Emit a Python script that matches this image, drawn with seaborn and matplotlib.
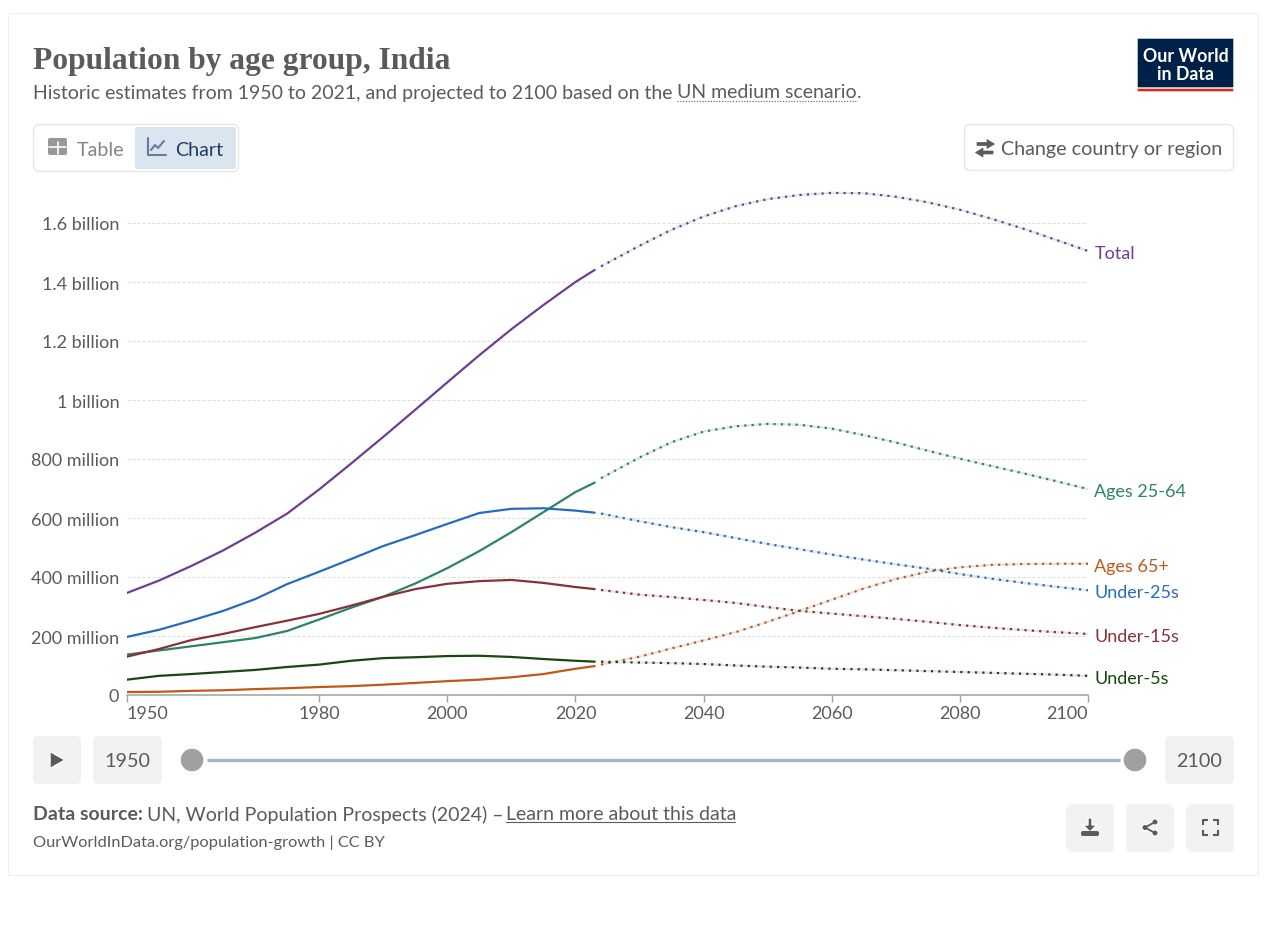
import pandas as pd
import seaborn as sns
import matplotlib.pyplot as plt
from matplotlib.patches import FancyBboxPatch, Rectangle, Circle, Polygon

# values in millions
hist_years = [1950, 1955, 1960, 1965, 1970, 1975, 1980, 1985, 1990, 1995, 2000, 2005, 2010, 2015, 2020, 2023]
proj_years = [2024, 2030, 2035, 2040, 2045, 2050, 2055, 2060, 2065, 2070, 2075, 2080, 2085, 2090, 2095, 2100]

total_hist = [346, 388, 437, 490, 550, 615, 697, 785, 875, 967, 1060, 1152, 1240, 1322, 1400, 1441]
total_proj = [1453, 1523, 1577, 1622, 1657, 1681, 1695, 1702, 1701, 1689, 1670, 1645, 1614, 1580, 1543, 1505]
a2564_hist = [137, 151, 165, 179, 193, 217, 256, 296, 333, 378, 430, 488, 552, 620, 688, 720]
a2564_proj = [735, 805, 857, 893, 911, 919, 916, 903, 881, 856, 828, 801, 776, 751, 725, 698]
a65_hist = [10, 11, 14, 16, 20, 23, 27, 30, 35, 41, 47, 52, 60, 71, 89, 98]
a65_proj = [103, 130, 158, 185, 213, 248, 285, 323, 361, 393, 418, 433, 441, 444, 445, 445]
u25_hist = [197, 221, 252, 285, 325, 376, 418, 461, 505, 542, 580, 617, 631, 633, 625, 618]
u25_proj = [615, 589, 569, 552, 532, 512, 494, 476, 459, 443, 428, 410, 394, 380, 367, 355]
u15_hist = [130, 156, 186, 207, 230, 252, 275, 303, 333, 359, 377, 386, 390, 380, 366, 359]
u15_proj = [356, 340, 332, 322, 312, 298, 285, 276, 267, 258, 248, 237, 228, 220, 213, 207]
u5_hist = [52, 65, 71, 78, 85, 95, 103, 116, 125, 128, 132, 133, 129, 122, 116, 113]
u5_proj = [113, 110, 108, 105, 100, 96, 93, 89, 87, 84, 81, 78, 75, 72, 69, 65]

series_names = ['Total', 'Ages 25-64', 'Ages 65+', 'Under-25s', 'Under-15s', 'Under-5s']
series_hist = [total_hist, a2564_hist, a65_hist, u25_hist, u15_hist, u5_hist]
series_proj = [total_proj, a2564_proj, a65_proj, u25_proj, u15_proj, u5_proj]
series_colors = ['#6D3E91', '#2C8465', '#C05917', '#286BBB', '#883039', '#18470F']

y_ticks = [0, 200, 400, 600, 800, 1000, 1200, 1400, 1600]
y_tick_labels = ['0', '200 million', '400 million', '600 million', '800 million',
                 '1 billion', '1.2 billion', '1.4 billion', '1.6 billion']
x_ticks = [1950, 1980, 2000, 2020, 2040, 2060, 2080, 2100]

GREY = '#5b5b5b'


def long_table(years, columns):
    frames = [pd.DataFrame({'year': years, 'value': vals, 'series': name})
              for name, vals in zip(series_names, columns)]
    return pd.concat(frames, ignore_index=True)


def box(ax, x0, y0, x1, y1, face, edge='none', r=5, lw=1.0):
    ax.add_patch(FancyBboxPatch((x0 + r, y0 + r), x1 - x0 - 2 * r, y1 - y0 - 2 * r,
                                boxstyle=f'round,pad={r},rounding_size={r}',
                                facecolor=face, edgecolor=edge, linewidth=lw))


def draw_chart(ax):
    palette = dict(zip(series_names, series_colors))
    hist = long_table(hist_years, series_hist)
    proj = long_table(proj_years, series_proj)

    # pale band under the dots, then the dots, then the solid history
    sns.lineplot(data=proj, x='year', y='value', hue='series', palette={n: '#e4e4e4' for n in series_names},
                 errorbar=None, legend=False, lw=1.6, ax=ax, zorder=3)
    sns.lineplot(data=proj, x='year', y='value', hue='series', palette=palette,
                 errorbar=None, legend=False, lw=1.6, linestyle=(0, (1.0, 2.3)), ax=ax, zorder=4)
    sns.lineplot(data=hist, x='year', y='value', hue='series', palette=palette,
                 errorbar=None, legend=False, lw=1.6, ax=ax, zorder=5)

    ax.set_xlim(1950, 2100)
    ax.set_ylim(0, 1715)
    ax.set_xlabel('')
    ax.set_ylabel('')
    ax.patch.set_alpha(0)
    for side in ['top', 'right', 'left']:
        ax.spines[side].set_visible(False)
    ax.spines['bottom'].set_color('#a1a1a1')
    ax.spines['bottom'].set_linewidth(1.1)

    ax.set_yticks(y_ticks)
    ax.set_yticklabels(y_tick_labels, fontsize=13, color=GREY)
    ax.tick_params(axis='y', left=False, length=0, pad=5.5)
    for v in y_ticks[1:]:
        ax.axhline(v, color='#dddddd', lw=0.8, linestyle=(0, (2.7, 1.8)), zorder=1)

    ax.set_xticks(x_ticks)
    ax.set_xticklabels([str(x) for x in x_ticks], fontsize=13, color=GREY)
    ax.tick_params(axis='x', bottom=True, length=5, width=1.0, color='#a1a1a1', pad=2.5)
    labels = ax.get_xticklabels()
    labels[0].set_ha('left')
    labels[-1].set_ha('right')

    for name, vals, color in zip(series_names, series_proj, series_colors):
        ax.annotate(name, xy=(2100, vals[-1]), xytext=(4.5, -1.3), textcoords='offset points',
                    va='center', ha='left', fontsize=13, color=color, annotation_clip=False)


def draw_frame(bg):
    bg.set_xlim(0, 1273)
    bg.set_ylim(927, -1)
    bg.axis('off')
    bg.add_patch(Rectangle((8.5, 13.5), 1250, 862, facecolor='white', edgecolor='#f0f0f0', lw=0.8, snap=False))

    # header
    bg.text(33, 60, 'Population by age group, India', family='Liberation Serif', weight='bold',
            fontsize=22.7, color=GREY, va='center')
    bg.text(33, 92, 'Historic estimates from 1950 to 2021, and projected to 2100 based on the',
            fontsize=14, color=GREY, va='center')
    bg.text(677, 92, 'UN medium scenario', fontsize=14, color=GREY, va='center')
    bg.text(857, 92, '.', fontsize=14, color=GREY, va='center')
    bg.plot([677, 857], [100.5, 100.5], color=GREY, lw=0.8, linestyle=(0, (1, 1.5)))

    # logo
    bg.add_patch(Rectangle((1137, 38), 97, 54, facecolor='#002147', snap=False))
    bg.add_patch(Rectangle((1137, 88), 97, 4, facecolor='#D42B21', snap=False))
    bg.text(1185.5, 55, 'Our World', color='white', weight='bold', fontsize=12.8, ha='center', va='center')
    bg.text(1185.5, 73, 'in Data', color='white', weight='bold', fontsize=12.8, ha='center', va='center')

    # table / chart toggle
    box(bg, 33.5, 124.5, 238.5, 171.5, 'white', '#e7e7e7', r=6)
    box(bg, 135, 127, 236, 169, '#dbe5f0', r=3)
    box(bg, 48, 138, 67, 155, '#989898', r=2)
    bg.plot([49, 66], [146.5, 146.5], color='white', lw=1.2)
    bg.plot([57.5, 57.5], [142, 154], color='white', lw=1.2)
    bg.text(77, 149, 'Table', color='#858585', fontsize=14.2, va='center')
    bg.plot([148, 148, 166], [138, 155, 155], color='#5f7f9f', lw=1.5)
    bg.plot([151, 155, 158, 164], [150, 145, 148, 141], color='#5f7f9f', lw=1.5)
    bg.text(175, 149, 'Chart', color='#1d3f66', fontsize=14.2, va='center')

    # change country button
    box(bg, 964.5, 124.5, 1233.5, 170.5, 'white', '#e7e7e7', r=6)
    bg.add_patch(Polygon([(994.5, 144), (987, 139.5), (987, 142.5), (977, 142.5), (977, 145.5), (987, 145.5), (987, 148.5)],
                         facecolor=GREY, edgecolor=GREY, lw=0.5))
    bg.add_patch(Polygon([(975.5, 152.5), (983, 148), (983, 151), (993, 151), (993, 154), (983, 154), (983, 157)],
                         facecolor=GREY, edgecolor=GREY, lw=0.5))
    bg.text(1001, 149, 'Change country or region', color=GREY, fontsize=14.2, va='center')

    # timeline
    box(bg, 33, 736, 81, 784, '#f2f2f2', r=6)
    bg.add_patch(Polygon([(50, 751.5), (50, 768.5), (65, 760)], facecolor=GREY))
    box(bg, 93, 736, 162, 784, '#f2f2f2', r=6)
    bg.text(127.5, 761, '1950', color=GREY, fontsize=14.2, ha='center', va='center')
    bg.plot([207, 1120], [760, 760], color='#a2b5cc', lw=2.4, solid_capstyle='butt')
    bg.add_patch(Circle((192, 760), 12, facecolor='#a0a0a0'))
    bg.add_patch(Circle((1135, 760), 12, facecolor='#a0a0a0'))
    box(bg, 1165, 736, 1234, 784, '#f2f2f2', r=6)
    bg.text(1199.5, 761, '2100', color=GREY, fontsize=14.2, ha='center', va='center')

    # footer
    bg.text(33, 814, 'Data source:', color=GREY, weight='bold', fontsize=14, va='center')
    bg.text(147, 814, 'UN, World Population Prospects (2024) –', color=GREY, fontsize=14, va='center')
    bg.text(506, 814, 'Learn more about this data', color=GREY, fontsize=14, va='center')
    bg.plot([506, 735], [821.5, 821.5], color=GREY, lw=0.8)
    bg.text(33, 842, 'OurWorldInData.org/population-growth | CC BY', color=GREY, fontsize=11.8, va='center')

    # download, share, fullscreen buttons
    for x0 in [1066, 1126, 1186]:
        box(bg, x0, 804, x0 + 48, 852, '#f2f2f2', r=6)
    bg.add_patch(Polygon([(1088, 818), (1092, 818), (1092, 825), (1097, 825), (1090, 832), (1083, 825), (1088, 825)],
                         facecolor=GREY))
    box(bg, 1081, 831, 1099, 836, GREY, r=2)
    bg.plot([1155, 1145, 1155], [822, 827.5, 833], color=GREY, lw=1.3)
    for cx, cy in [(1155, 822), (1145, 827.5), (1155, 833)]:
        bg.add_patch(Circle((cx, cy), 3.2, facecolor=GREY))
    for sx, sy in [(1202.5, 820), (1217.5, 820), (1202.5, 835), (1217.5, 835)]:
        dx = 5 if sx < 1210 else -5
        dy = 5 if sy < 827 else -5
        bg.plot([sx + dx, sx, sx], [sy, sy, sy + dy], color=GREY, lw=1.5, solid_capstyle='butt')


if __name__ == "__main__":
    sns.set_theme(style="white")
    plt.rcParams['font.family'] = ['Lato', 'DejaVu Sans']
    W, H = 1273, 928
    fig = plt.figure(figsize=(W / 100, H / 100), dpi=100, facecolor='white')

    bg = fig.add_axes([0, 0, 1, 1], zorder=0)
    draw_frame(bg)

    top = 696 - 1715 * 0.295
    ax = fig.add_axes([127 / W, (H - 696) / H, (1088 - 127) / W, (696 - top) / H], zorder=1)
    draw_chart(ax)

    fig.savefig('out.png', dpi=100)
